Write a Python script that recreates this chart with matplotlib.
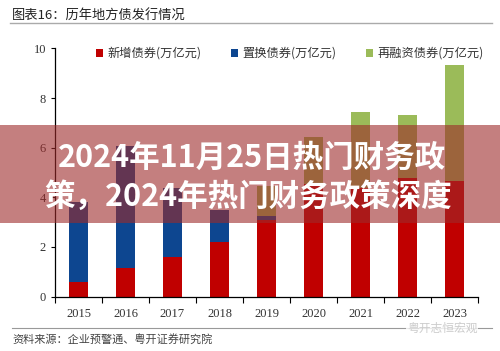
import matplotlib.pyplot as plt
import matplotlib.patches as mpatches
import numpy as np

plt.rcParams['font.family'] = ['Noto Sans CJK SC', 'DejaVu Sans']

years = ['2015', '2016', '2017', '2018', '2019', '2020', '2021', '2022', '2023']
new_bonds = [0.6, 1.17, 1.59, 2.18, 3.08, 4.55, 4.37, 4.76, 4.66]
swap_bonds = [3.2, 4.88, 2.77, 1.31, 0.16, 0, 0, 0, 0]
refi_bonds = [0, 0, 0, 0, 1.2, 1.87, 3.08, 2.57, 4.67]
labels = ['新增债券(万亿元)', '置换债券(万亿元)', '再融资债券(万亿元)']
colors = ['#c00000', '#0d4690', '#9bbb59']

fig = plt.figure(figsize=(5, 3.51), dpi=100)
ax = fig.add_axes([0.11, 0.155, 0.846, 0.707])

x = np.arange(len(years))
w = 0.4
ax.bar(x, new_bonds, w, color=colors[0], label=labels[0])
ax.bar(x, swap_bonds, w, bottom=new_bonds, color=colors[1], label=labels[1])
bottom2 = np.array(new_bonds) + np.array(swap_bonds)
ax.bar(x, refi_bonds, w, bottom=bottom2, color=colors[2], label=labels[2])

ax.set_ylim(0, 10)
ax.set_yticks([0, 2, 4, 6, 8, 10])
ax.set_xlim(-0.5, len(years) - 0.5)
ax.set_xticks(x)
ax.set_xticklabels(years)
ax.set_xticks(np.arange(len(years) + 1) - 0.5, minor=True)
ax.tick_params(axis='x', which='major', length=0, pad=8)
ax.tick_params(axis='x', which='minor', length=4, direction='out', width=0.8)
ax.tick_params(axis='y', length=3, direction='out', width=0.8)
for lab in ax.get_xticklabels() + ax.get_yticklabels():
    lab.set_fontfamily('Liberation Serif')
    lab.set_fontsize(9)
    lab.set_color('#333333')
ax.spines['top'].set_visible(False)
ax.spines['right'].set_visible(False)
ax.spines['left'].set_linewidth(0.9)
ax.spines['bottom'].set_linewidth(0.9)

leg = ax.legend(loc='upper center', bbox_to_anchor=(0.555, 1.05), ncol=3, frameon=False,
                fontsize=8.8, handlelength=0.6, handleheight=0.6, handletextpad=0.35,
                columnspacing=2.4)
for t in leg.get_texts():
    t.set_color('#333333')

# title and lines
fig.text(0.024, 0.955, '图表16：历年地方债发行情况', fontsize=9.5, color='#222222', va='center')
fig.add_artist(plt.Line2D([0.02, 0.984], [0.935, 0.935], color='#aaaaaa', lw=1))
fig.add_artist(plt.Line2D([0.024, 0.984], [0.066, 0.066], color='#999999', lw=0.8))
fig.text(0.024, 0.032, '资料来源：企业预警通、粤开证券研究院', fontsize=8, style='italic',
         color='#444444', va='center')
fig.text(0.955, 0.066, '粤开志恒宏观', fontsize=8.5, color='#cccccc', va='center', ha='right',
         bbox=dict(facecolor='white', edgecolor='none', pad=0.5, alpha=0.8))

# overlay band
fig.add_artist(mpatches.Rectangle((0, 1 - 223 / 351), 1, 98 / 351, transform=fig.transFigure,
                                  facecolor='#9e2a2a', alpha=0.6, edgecolor='none'))
fig.text(0.504, 1 - 158 / 351, '2024年11月25日热门财务政', fontsize=22, fontweight='bold',
         color='white', ha='center', va='center')
fig.text(0.497, 1 - 197 / 351, '策，2024年热门财务政策深度', fontsize=22, fontweight='bold',
         color='white', ha='center', va='center')

plt.savefig('out.png', dpi=100)
